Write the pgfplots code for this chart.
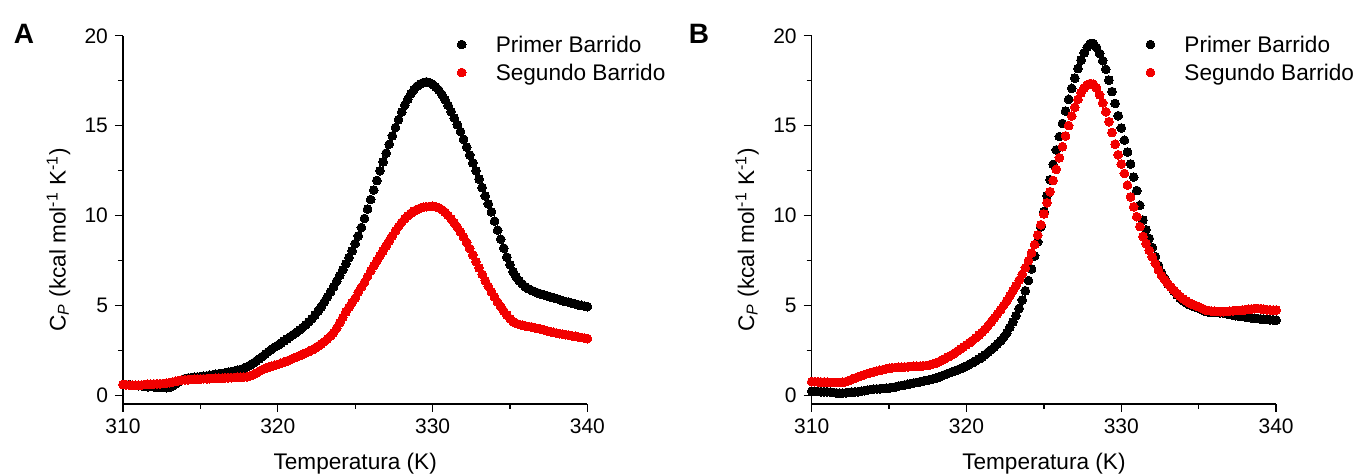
\documentclass[border=0pt]{standalone}
\usepackage{fontspec}
\setmainfont{Liberation Sans}
\usepackage{pgfplots}
\usepackage{pgfplotstable}
\pgfplotsset{compat=1.18}
\definecolor{myred}{RGB}{242,0,0}

\pgfplotstableread{
T Cp
310.0 0.62
310.2 0.60
310.4 0.62
310.6 0.58
310.8 0.57
311.0 0.56
311.2 0.55
311.4 0.52
311.6 0.50
311.8 0.52
312.0 0.50
312.2 0.48
312.4 0.47
312.6 0.46
312.8 0.45
313.0 0.47
313.2 0.55
313.4 0.66
313.6 0.78
313.8 0.88
314.0 0.95
314.2 0.98
314.4 1.00
314.6 1.02
314.8 1.04
315.0 1.06
315.2 1.08
315.4 1.10
315.6 1.13
315.8 1.16
316.0 1.19
316.2 1.22
316.4 1.24
316.6 1.27
316.8 1.31
317.0 1.34
317.2 1.37
317.4 1.41
317.6 1.46
317.8 1.52
318.0 1.60
318.2 1.69
318.4 1.80
318.6 1.92
318.8 2.05
319.0 2.18
319.2 2.32
319.4 2.45
319.6 2.58
319.8 2.70
320.0 2.80
320.2 2.92
320.4 3.04
320.6 3.16
320.8 3.28
321.0 3.40
321.2 3.52
321.4 3.65
321.6 3.79
321.8 3.94
322.0 4.10
322.2 4.28
322.4 4.48
322.6 4.70
322.8 4.94
323.0 5.20
323.2 5.48
323.4 5.76
323.6 6.05
323.8 6.36
324.0 6.68
324.2 7.00
324.4 7.33
324.6 7.68
324.8 8.05
325.0 8.45
325.2 8.88
325.4 9.35
325.6 9.85
325.8 10.37
326.0 10.90
326.2 11.43
326.4 11.96
326.6 12.50
326.8 12.99
327.0 13.48
327.2 13.97
327.4 14.44
327.6 14.90
327.8 15.34
328.0 15.76
328.2 16.14
328.4 16.48
328.6 16.78
328.8 17.02
329.0 17.20
329.2 17.32
329.4 17.40
329.6 17.44
329.8 17.40
330.0 17.30
330.2 17.16
330.4 16.98
330.6 16.74
330.8 16.46
331.0 16.14
331.2 15.79
331.4 15.43
331.6 15.06
331.8 14.68
332.0 14.25
332.2 13.82
332.4 13.38
332.6 12.94
332.8 12.50
333.0 12.04
333.2 11.57
333.4 11.10
333.6 10.66
333.8 10.22
334.0 9.70
334.2 9.20
334.4 8.70
334.6 8.20
334.8 7.70
335.0 7.28
335.2 6.90
335.4 6.60
335.6 6.38
335.8 6.20
336.0 6.05
336.2 5.94
336.4 5.85
336.6 5.78
336.8 5.71
337.0 5.65
337.2 5.60
337.4 5.55
337.6 5.50
337.8 5.45
338.0 5.40
338.2 5.34
338.4 5.28
338.6 5.23
338.8 5.19
339.0 5.14
339.2 5.10
339.4 5.06
339.6 5.02
339.8 4.98
340.0 4.95
}\blackA

\pgfplotstableread{
T Cp
310.0 0.62
310.2 0.60
310.4 0.60
310.6 0.58
310.8 0.58
311.0 0.58
311.2 0.60
311.4 0.62
311.6 0.63
311.8 0.64
312.0 0.65
312.2 0.66
312.4 0.66
312.6 0.68
312.8 0.70
313.0 0.72
313.2 0.76
313.4 0.80
313.6 0.84
313.8 0.87
314.0 0.88
314.2 0.89
314.4 0.90
314.6 0.91
314.8 0.92
315.0 0.93
315.2 0.94
315.4 0.94
315.6 0.95
315.8 0.96
316.0 0.97
316.2 0.98
316.4 0.98
316.6 0.99
316.8 1.00
317.0 1.00
317.2 1.01
317.4 1.02
317.6 1.03
317.8 1.04
318.0 1.05
318.2 1.10
318.4 1.17
318.6 1.26
318.8 1.36
319.0 1.45
319.2 1.52
319.4 1.58
319.6 1.64
319.8 1.69
320.0 1.74
320.2 1.80
320.4 1.86
320.6 1.93
320.8 2.00
321.0 2.08
321.2 2.15
321.4 2.22
321.6 2.30
321.8 2.37
322.0 2.45
322.2 2.54
322.4 2.64
322.6 2.75
322.8 2.87
323.0 3.00
323.2 3.15
323.4 3.31
323.6 3.50
323.8 3.75
324.0 4.05
324.2 4.35
324.4 4.65
324.6 4.92
324.8 5.18
325.0 5.42
325.2 5.75
325.4 6.03
325.6 6.30
325.8 6.62
326.0 6.93
326.2 7.22
326.4 7.50
326.6 7.78
326.8 8.05
327.0 8.33
327.2 8.60
327.4 8.88
327.6 9.15
327.8 9.40
328.0 9.63
328.2 9.84
328.4 10.00
328.6 10.14
328.8 10.26
329.0 10.35
329.2 10.42
329.4 10.47
329.6 10.50
329.8 10.51
330.0 10.52
330.2 10.50
330.4 10.44
330.6 10.34
330.8 10.20
331.0 10.02
331.2 9.82
331.4 9.60
331.6 9.36
331.8 9.10
332.0 8.82
332.2 8.52
332.4 8.18
332.6 7.82
332.8 7.45
333.0 7.10
333.2 6.75
333.4 6.40
333.6 6.08
333.8 5.78
334.0 5.48
334.2 5.20
334.4 4.95
334.6 4.70
334.8 4.48
335.0 4.28
335.2 4.12
335.4 4.02
335.6 3.96
335.8 3.92
336.0 3.88
336.2 3.85
336.4 3.82
336.6 3.78
336.8 3.74
337.0 3.70
337.2 3.65
337.4 3.60
337.6 3.56
337.8 3.52
338.0 3.48
338.2 3.45
338.4 3.42
338.6 3.39
338.8 3.36
339.0 3.33
339.2 3.30
339.4 3.27
339.6 3.24
339.8 3.20
340.0 3.17
}\redA

\pgfplotstableread{
T Cp
310.0 0.25
310.2 0.24
310.4 0.23
310.6 0.22
310.8 0.22
311.0 0.22
311.2 0.20
311.4 0.18
311.6 0.16
311.8 0.15
312.0 0.15
312.2 0.16
312.4 0.18
312.6 0.20
312.8 0.21
313.0 0.22
313.2 0.25
313.4 0.28
313.6 0.31
313.8 0.34
314.0 0.37
314.2 0.38
314.4 0.39
314.6 0.40
314.8 0.42
315.0 0.43
315.2 0.46
315.4 0.49
315.6 0.53
315.8 0.57
316.0 0.60
316.2 0.63
316.4 0.67
316.6 0.71
316.8 0.74
317.0 0.78
317.2 0.81
317.4 0.85
317.6 0.89
317.8 0.93
318.0 0.97
318.2 1.03
318.4 1.10
318.6 1.17
318.8 1.24
319.0 1.30
319.2 1.36
319.4 1.43
319.6 1.50
319.8 1.58
320.0 1.66
320.2 1.75
320.4 1.84
320.6 1.94
320.8 2.04
321.0 2.15
321.2 2.28
321.4 2.42
321.6 2.56
321.8 2.72
322.0 2.88
322.2 3.05
322.4 3.25
322.6 3.48
322.8 3.80
323.0 4.10
323.2 4.45
323.4 4.85
323.6 5.32
323.8 5.83
324.0 6.40
324.2 7.05
324.4 7.77
324.6 8.55
324.8 9.38
325.0 10.24
325.2 11.12
325.4 12.00
325.6 12.85
325.8 13.66
326.0 14.40
326.2 15.13
326.4 15.82
326.6 16.47
326.8 17.08
327.0 17.65
327.2 18.18
327.4 18.65
327.6 19.05
327.8 19.37
328.0 19.57
328.2 19.57
328.4 19.35
328.6 19.02
328.8 18.62
329.0 18.14
329.2 17.54
329.4 16.90
329.6 16.24
329.8 15.56
330.0 14.88
330.2 14.20
330.4 13.54
330.6 12.88
330.8 12.15
331.0 11.40
331.2 10.58
331.4 9.76
331.6 9.22
331.8 8.74
332.0 8.24
332.2 7.73
332.4 7.24
332.6 6.84
332.8 6.53
333.0 6.22
333.2 6.05
333.4 5.82
333.6 5.60
333.8 5.42
334.0 5.28
334.2 5.16
334.4 5.06
334.6 4.98
334.8 4.92
335.0 4.86
335.2 4.78
335.4 4.70
335.6 4.66
335.8 4.64
336.0 4.63
336.2 4.62
336.4 4.61
336.6 4.60
336.8 4.56
337.0 4.52
337.2 4.48
337.4 4.45
337.6 4.42
337.8 4.40
338.0 4.38
338.2 4.36
338.4 4.33
338.6 4.30
338.8 4.29
339.0 4.27
339.2 4.25
339.4 4.24
339.6 4.22
339.8 4.21
340.0 4.20
}\blackB

\pgfplotstableread{
T Cp
310.0 0.78
310.2 0.78
310.4 0.77
310.6 0.76
310.8 0.76
311.0 0.75
311.2 0.74
311.4 0.73
311.6 0.73
311.8 0.74
312.0 0.75
312.2 0.78
312.4 0.84
312.6 0.91
312.8 0.98
313.0 1.05
313.2 1.11
313.4 1.17
313.6 1.23
313.8 1.28
314.0 1.33
314.2 1.37
314.4 1.41
314.6 1.45
314.8 1.49
315.0 1.52
315.2 1.55
315.4 1.57
315.6 1.58
315.8 1.59
316.0 1.60
316.2 1.61
316.4 1.62
316.6 1.63
316.8 1.64
317.0 1.65
317.2 1.66
317.4 1.68
317.6 1.71
317.8 1.75
318.0 1.80
318.2 1.88
318.4 1.97
318.6 2.06
318.8 2.15
319.0 2.24
319.2 2.35
319.4 2.47
319.6 2.59
319.8 2.71
320.0 2.83
320.2 2.95
320.4 3.08
320.6 3.22
320.8 3.37
321.0 3.52
321.2 3.70
321.4 3.90
321.6 4.10
321.8 4.32
322.0 4.55
322.2 4.78
322.4 5.02
322.6 5.28
322.8 5.55
323.0 5.83
323.2 6.12
323.4 6.42
323.6 6.75
323.8 7.11
324.0 7.50
324.2 7.93
324.4 8.40
324.6 8.93
324.8 9.50
325.0 10.10
325.2 10.72
325.4 11.34
325.6 11.96
325.8 12.58
326.0 13.22
326.2 13.84
326.4 14.44
326.6 15.01
326.8 15.54
327.0 16.03
327.2 16.47
327.4 16.83
327.6 17.11
327.8 17.28
328.0 17.35
328.2 17.31
328.4 17.10
328.6 16.72
328.8 16.28
329.0 15.78
329.2 15.23
329.4 14.63
329.6 13.98
329.8 13.39
330.0 12.87
330.2 12.35
330.4 11.70
330.6 11.05
330.8 10.50
331.0 9.95
331.2 9.40
331.4 8.85
331.6 8.46
331.8 8.08
332.0 7.72
332.2 7.35
332.4 6.98
332.6 6.68
332.8 6.45
333.0 6.24
333.2 6.05
333.4 5.86
333.6 5.68
333.8 5.52
334.0 5.38
334.2 5.26
334.4 5.16
334.6 5.08
334.8 5.01
335.0 4.94
335.2 4.86
335.4 4.78
335.6 4.74
335.8 4.71
336.0 4.69
336.2 4.68
336.4 4.67
336.6 4.67
336.8 4.68
337.0 4.70
337.2 4.72
337.4 4.73
337.6 4.74
337.8 4.76
338.0 4.78
338.2 4.80
338.4 4.82
338.6 4.84
338.8 4.85
339.0 4.83
339.2 4.80
339.4 4.78
339.6 4.77
339.8 4.76
340.0 4.76
}\redB

\pgfplotsset{
  panel/.style={
    scale only axis, width=232.2pt, height=184.1pt,
    xmin=310, xmax=340, ymin=-0.46, ymax=20,
    axis x line*=bottom, axis y line*=left,
    axis line style={-, line width=0.65pt},
    tick align=outside, major tick length=4pt, minor tick length=2.5pt,
    every tick/.style={black, line width=0.65pt},
    xtick={310,320,330,340}, minor xtick={315,325,335},
    ytick={0,5,10,15,20}, minor ytick={2.5,7.5,12.5,17.5},
    /pgf/number format/assume math mode=true,
    ticklabel style={font=\fontsize{10.5}{12}\selectfont},
    xlabel={Temperatura (K)},
    ylabel={C\textsubscript{\textit{P}} (kcal mol\textsuperscript{-1} K\textsuperscript{-1})},
    every axis x label/.style={at={(axis description cs:0.5,0)}, anchor=base, yshift=-33pt, font=\fontsize{11.3}{13}\selectfont},
    every axis y label/.style={at={(axis description cs:-0.139,0.446)}, rotate=90, anchor=center, font=\fontsize{11.3}{13}\selectfont},
    legend image code/.code={\draw[#1] plot coordinates {(0pt,0.8pt)};},
    legend style={draw=none, fill=none, inner sep=0pt, outer sep=0pt,
      at={(axis description cs:0.72,1.0073)}, anchor=north west,
      font=\fontsize{11.3}{13}\selectfont, column sep=13.8pt, row sep=1pt,
      nodes={inner sep=1pt, text height=8.5pt, text depth=2.5pt}},
    legend cell align=left,
    blk/.style={only marks, mark=*, mark size=2.2pt, black, mark options={draw=black, fill=black, line width=0pt}},
    rd/.style={only marks, mark=*, mark size=2.2pt, myred, mark options={draw=myred, fill=myred, line width=0pt}},
  },
}

\begin{document}
\begin{tikzpicture}
\useasboundingbox (0,0) rectangle (678pt,238pt);
\begin{axis}[panel, at={(61.5pt,36pt)}, anchor=south west]
\addplot[blk] table[x=T, y=Cp] {\blackA};
\addlegendentry{Primer Barrido}
\addplot[rd] table[x=T, y=Cp] {\redA};
\addlegendentry{Segundo Barrido}
\end{axis}
\begin{axis}[panel, at={(405.85pt,36pt)}, anchor=south west]
\addplot[blk] table[x=T, y=Cp] {\blackB};
\addlegendentry{Primer Barrido}
\addplot[rd] table[x=T, y=Cp] {\redB};
\addlegendentry{Segundo Barrido}
\end{axis}
\node[font=\bfseries\fontsize{14}{16}\selectfont] at (12pt,221.3pt) {A};
\node[font=\bfseries\fontsize{14}{16}\selectfont] at (349.5pt,221.3pt) {B};
\end{tikzpicture}
\end{document}
